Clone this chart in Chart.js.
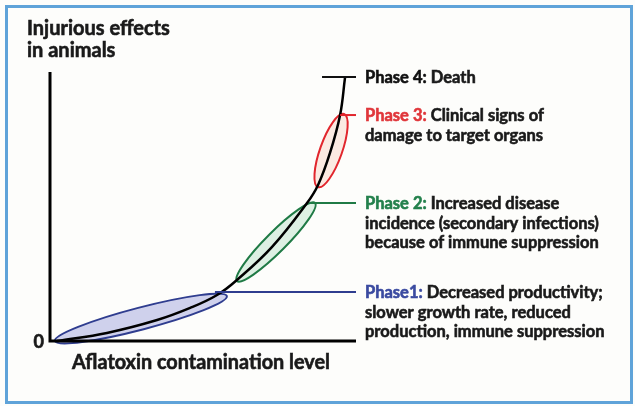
<!DOCTYPE html>
<html>
<head>
<meta charset="utf-8">
<script src="https://cdn.jsdelivr.net/npm/chart.js@4"></script>
<style>
    html, body { margin: 0; padding: 0; background: #fdfdfb; }
    #wrap { width: 635px; height: 406px; position: relative; }
</style>
</head>
<body>
<div id="wrap"><canvas id="chart" width="635" height="406"></canvas></div>
<script>
// Dose-response curve (x = contamination level, y = injurious effect, both 0-100)
const contamination = [2.3, 18.6, 35.0, 45.8, 54.6, 61.1, 72.5, 84.0, 87.6, 91.5, 94.8, 96.4];
const injury = [0, 3.0, 7.8, 12.3, 17.1, 22.7, 34.9, 51.3, 58.0, 69.9, 84.0, 97.8];

// Phase leader lines: level on the y scale and where the line starts on x
const phaseLevel = [18.2, 51.3, 84.0, 98.1];
const phaseLineStart = [53.9, 85.0, 94.8, 88.9];
const phaseTitles = ['Phase1:', 'Phase 2:', 'Phase 3:', 'Phase 4:'];
const phaseText = [
    ['Decreased productivity;', 'slower growth rate, reduced', 'production, immune suppression'],
    ['Increased disease', 'incidence (secondary infections)', 'because of immune suppression'],
    ['Clinical signs of', 'damage to target organs'],
    ['Death']
];

// Zones around the curve for phases 1-3 (ends of each ellipse, in data units)
const zoneFrom = [[1.6, 0], [61.1, 22.3], [87.6, 57.2]];
const zoneTo = [[57.8, 16.7], [86.6, 51.3], [96.1, 84.4]];

const phaseColors = ['#2f3d8f', '#1f7a45', '#e1262d', '#111111'];
const titleColors = ['#3a4aa0', '#23804c', '#e0363a', '#111111'];
const zoneFill = ['rgba(176,180,226,0.6)', 'rgba(200,232,212,0.6)', 'rgba(250,222,210,0.6)'];
const zoneHalfWidth = [11, 10, 11];

const FONT = 'Lato, "Open Sans", sans-serif';

// draw text slightly heavier than the plain bold face
function heavyText(ctx, txt, x, y, maxW) {
    ctx.strokeStyle = ctx.fillStyle;
    ctx.lineWidth = 0.6;
    if (maxW) {
        ctx.fillText(txt, x, y, maxW);
        ctx.strokeText(txt, x, y, maxW);
    } else {
        ctx.fillText(txt, x, y);
        ctx.strokeText(txt, x, y);
    }
}

// Ellipses drawn through the chart's own scales
const zonesPlugin = {
    id: 'zones',
    beforeDatasetsDraw(chart) {
        const { ctx, scales: { x, y } } = chart;
        zoneFrom.forEach((a, i) => {
            const b = zoneTo[i];
            const x1 = x.getPixelForValue(a[0]), y1 = y.getPixelForValue(a[1]);
            const x2 = x.getPixelForValue(b[0]), y2 = y.getPixelForValue(b[1]);
            const cx = (x1 + x2) / 2, cy = (y1 + y2) / 2;
            const len = Math.hypot(x2 - x1, y2 - y1) / 2;
            const ang = Math.atan2(y2 - y1, x2 - x1);
            ctx.save();
            ctx.beginPath();
            ctx.ellipse(cx, cy, len, zoneHalfWidth[i], ang, 0, Math.PI * 2);
            ctx.fillStyle = zoneFill[i];
            ctx.fill();
            ctx.lineWidth = 2;
            ctx.strokeStyle = phaseColors[i];
            ctx.stroke();
            ctx.restore();
        });
    }
};

// Axes, axis titles, frame and phase descriptions
const labelsPlugin = {
    id: 'labels',
    afterDraw(chart) {
        const { ctx, chartArea: area, scales: { x, y } } = chart;
        ctx.save();
        // frame
        ctx.strokeStyle = '#5fa3d9';
        ctx.lineWidth = 3;
        ctx.strokeRect(6.5, 6.5, 625, 396);

        // axes
        ctx.strokeStyle = '#000';
        ctx.lineWidth = 3;
        ctx.beginPath();
        ctx.moveTo(area.left, area.top);
        ctx.lineTo(area.left, area.bottom);
        ctx.lineTo(area.right, area.bottom);
        ctx.stroke();

        ctx.fillStyle = '#1a1a1a';
        ctx.textBaseline = 'middle';
        ctx.font = 'bold 18px ' + FONT;
        ctx.textAlign = 'right';
        heavyText(ctx, '0', area.left - 6, area.bottom + 1);

        ctx.textAlign = 'left';
        ctx.font = 'bold 20px ' + FONT;
        heavyText(ctx, 'Injurious effects', 27, 29, 144);
        heavyText(ctx, 'in animals', 27, 51);

        ctx.textAlign = 'center';
        heavyText(ctx, 'Aflatoxin contamination level', (area.left + area.right) / 2 - 2, 363, 258);

        // phase texts
        ctx.textAlign = 'left';
        const lx = 365;
        phaseTitles.forEach((t, i) => {
            const py = y.getPixelForValue(phaseLevel[i]) + 1;
            phaseText[i].forEach((line, j) => {
                const ly = py + j * 19.5;
                let tx = lx;
                ctx.font = 'bold 16.5px ' + FONT;
                if (j === 0) {
                    ctx.fillStyle = titleColors[i];
                    heavyText(ctx, t, tx, ly);
                    tx += ctx.measureText(t + ' ').width;
                }
                ctx.fillStyle = '#1a1a1a';
                heavyText(ctx, line, tx, ly, 622 - tx);
            });
        });
        ctx.restore();
    }
};

const leaderSets = phaseLevel.map((lvl, i) => ({
    data: [{ x: phaseLineStart[i], y: lvl }, { x: 100, y: lvl }],
    borderColor: phaseColors[i],
    borderWidth: 2,
    pointRadius: 0,
    showLine: true,
    clip: false
}));

new Chart(document.getElementById('chart'), {
    type: 'scatter',
    data: {
        datasets: [
            ...leaderSets,
            {
                data: contamination.map((v, i) => ({ x: v, y: injury[i] })),
                borderColor: '#000',
                borderWidth: 2.5,
                pointRadius: 0,
                showLine: true,
                tension: 0.4,
                clip: false
            }
        ]
    },
    options: {
        responsive: false,
        animation: false,
        layout: { padding: { left: 50, right: 279, top: 72, bottom: 65 } },
        plugins: { legend: { display: false }, tooltip: { enabled: false } },
        scales: {
            x: { type: 'linear', min: 0, max: 100, display: false },
            y: { type: 'linear', min: 0, max: 100, display: false }
        }
    },
    plugins: [zonesPlugin, labelsPlugin]
});
</script>
</body>
</html>
